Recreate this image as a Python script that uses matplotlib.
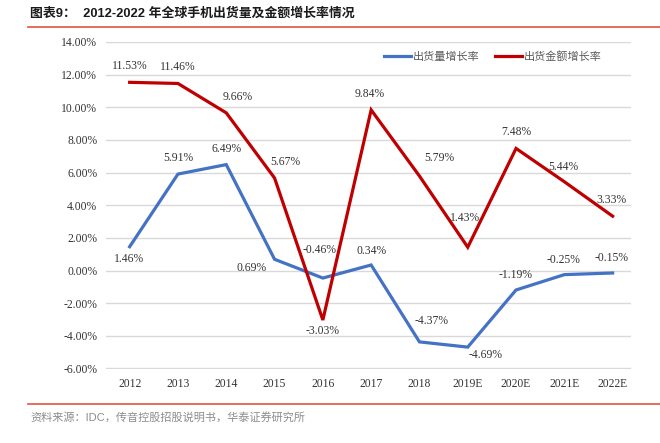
import matplotlib
matplotlib.use("Agg")
import matplotlib.pyplot as plt
from matplotlib.lines import Line2D
from matplotlib.ticker import FuncFormatter, MultipleLocator

years = ["2012", "2013", "2014", "2015", "2016", "2017", "2018",
         "2019E", "2020E", "2021E", "2022E"]
volume_growth = [1.46, 5.91, 6.49, 0.69, -0.46, 0.34, -4.37, -4.69, -1.19, -0.25, -0.15]
value_growth = [11.53, 11.46, 9.66, 5.67, -3.03, 9.84, 5.79, 1.43, 7.48, 5.44, 3.33]

# label offsets (pixels, +y = up) so the data labels sit like the original
vol_offsets = [(-1, -12), (0, 16), (0, 16), (-23, -9), (-3, 28), (0, 14),
               (12, 21), (18, -8), (0, 15), (-1, 15), (-1, 15)]
val_offsets = [(0, 16), (0, 16), (11, 16), (11, 16), (0, -11), (-1, 16),
               (20, 18), (-3, 29), (0, 16), (-1, 15), (-1, 16)]

BLUE = "#4472C4"
RED = "#C00000"
TXT = "#333333"
SERIF = "Liberation Serif"
CJK = ["Liberation Sans", "Noto Sans CJK SC", "DejaVu Sans"]
FS = 8.4

W, H = 660, 443
fig = plt.figure(figsize=(W / 100, H / 100), dpi=100)
ax = fig.add_axes([105.5 / W, 1 - 368.5 / H, (631 - 105.5) / W, (368.5 - 42) / H])

x = list(range(len(years)))
ax.plot(x, volume_growth, color=BLUE, lw=2.3, label="出货量增长率", solid_joinstyle="miter")
ax.plot(x, value_growth, color=RED, lw=2.3, label="出货金额增长率", solid_joinstyle="miter")

for xi, v, (dx, dy) in zip(x, volume_growth, vol_offsets):
    ax.annotate(f"{v:.2f}%", (xi, v), xytext=(dx, dy), textcoords="offset pixels",
                ha="center", va="center", fontsize=FS, family=SERIF, color=TXT)
for xi, v, (dx, dy) in zip(x, value_growth, val_offsets):
    ax.annotate(f"{v:.2f}%", (xi, v), xytext=(dx, dy), textcoords="offset pixels",
                ha="center", va="center", fontsize=FS, family=SERIF, color=TXT)

ax.set_ylim(-6, 14)
ax.set_xlim(-0.5, 10.38)
ax.yaxis.set_major_locator(MultipleLocator(2))
ax.yaxis.set_major_formatter(FuncFormatter(lambda v, _: f"{v:.2f}%"))
ax.set_xticks(x)
ax.set_xticklabels(years)
for lab in ax.get_xticklabels() + ax.get_yticklabels():
    lab.set_family(SERIF)
    lab.set_fontsize(FS)
    lab.set_color(TXT)
ax.tick_params(axis="both", length=0)
ax.tick_params(axis="y", pad=6)
ax.tick_params(axis="x", pad=7)
ax.grid(axis="y", color="#d9d9d9", lw=1)
ax.set_axisbelow(True)
for sp in ax.spines.values():
    sp.set_visible(False)

leg = ax.legend(loc="center", bbox_to_anchor=(493 / W, 1 - 56.7 / H),
                bbox_transform=fig.transFigure, ncol=2, frameon=False,
                prop={"family": CJK, "size": 8}, handlelength=2.4,
                handletextpad=0.2, columnspacing=1.4)
for t in leg.get_texts():
    t.set_color("#595959")

# title and source
fig.text(30 / W, 1 - 14 / H, "图表9：  2012-2022 年全球手机出货量及金额增长率情况",
         family=CJK, fontsize=9.3, fontweight="bold", color="#1a1a1a",
         ha="left", va="center")
fig.add_artist(Line2D([28 / W, 1], [1 - 27 / H] * 2, color="#E2533F", lw=1.2,
                      transform=fig.transFigure))
fig.add_artist(Line2D([28 / W, 1], [1 - 404 / H] * 2, color="#E2533F", lw=1.2,
                      transform=fig.transFigure))
fig.text(30 / W, 1 - 417 / H, "资料来源：IDC，传音控股招股说明书，华泰证券研究所",
         family=CJK, fontsize=8, color="#8c8c8c", ha="left", va="center")

fig.savefig("out.png", dpi=100)
